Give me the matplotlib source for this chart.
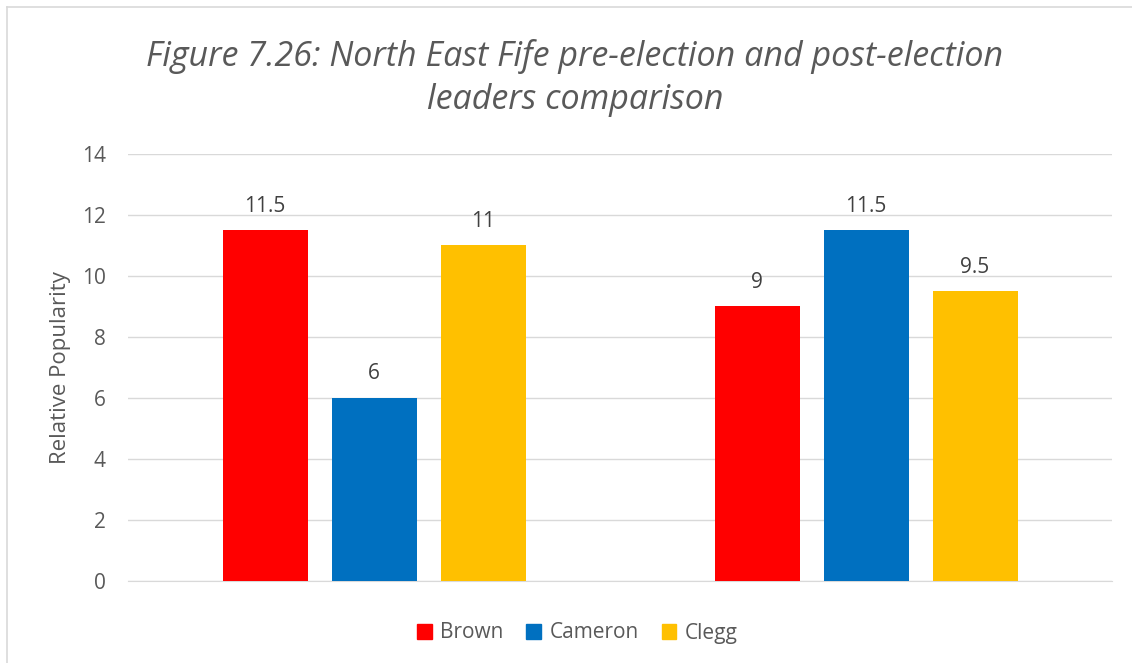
import matplotlib.pyplot as plt
from matplotlib.lines import Line2D
from matplotlib.patches import Patch

leaders = ["Brown", "Cameron", "Clegg"]
colours = ["#ff0000", "#0070c0", "#ffc000"]
periods = ["Pre-election", "Post-election"]
brown = [11.5, 9]
cameron = [6, 11.5]
clegg = [11, 9.5]
yticks = [0, 2, 4, 6, 8, 10, 12, 14]

plt.rcParams['font.family'] = ['Open Sans', 'DejaVu Sans']
text_col = "#595959"
grid_col = "#d9d9d9"

fig = plt.figure(figsize=(11.32, 6.63), dpi=100)
ax = fig.add_axes([128 / 1132, 1 - 581 / 663, 984 / 1132, 427 / 663])

width = 85 / 492
step = 109 / 492
for i, (name, vals, col) in enumerate(zip(leaders, [brown, cameron, clegg], colours)):
    xs = [p + (i - 1) * step for p in range(len(periods))]
    ax.bar(xs, vals, width=width, color=col, zorder=3)
    for x, v in zip(xs, vals):
        ax.text(x, v + 0.45, "{:g}".format(v), ha="center", va="bottom",
                fontsize=15, color="#404040")

ax.set_xlim(-0.5, 1.5)
ax.set_ylim(0, 14)
ax.set_yticks(yticks)
ax.set_xticks([])
ax.grid(axis="y", color=grid_col, lw=1, zorder=0)
for s in ["top", "right", "left"]:
    ax.spines[s].set_visible(False)
ax.spines["bottom"].set_color(grid_col)
ax.tick_params(axis="y", length=0, pad=16, labelsize=15, labelcolor=text_col)
ax.set_ylabel("Relative Popularity", fontsize=16, color=text_col, labelpad=8)

fig.text(0.508, 1 - 78 / 663, "Figure 7.26: North East Fife pre-election and post-election\nleaders comparison",
         ha="center", va="center", fontsize=24.5, style="italic", color=text_col,
         linespacing=1.32)

handles = [Patch(color=c) for c in colours]
fig.legend(handles, leaders, loc="center", bbox_to_anchor=(0.51, 1 - 633 / 663),
           ncol=3, frameon=False, fontsize=15, labelcolor=text_col,
           handlelength=0.7, handleheight=0.7, handletextpad=0.4, columnspacing=1.1)

# chart border
fig.add_artist(Line2D([7 / 1132, 7 / 1132], [0, 1 - 7 / 663], color=grid_col, lw=1.2))
fig.add_artist(Line2D([7 / 1132, 1], [1 - 7 / 663, 1 - 7 / 663], color=grid_col, lw=1.2))

fig.savefig("out.png", dpi=100)
